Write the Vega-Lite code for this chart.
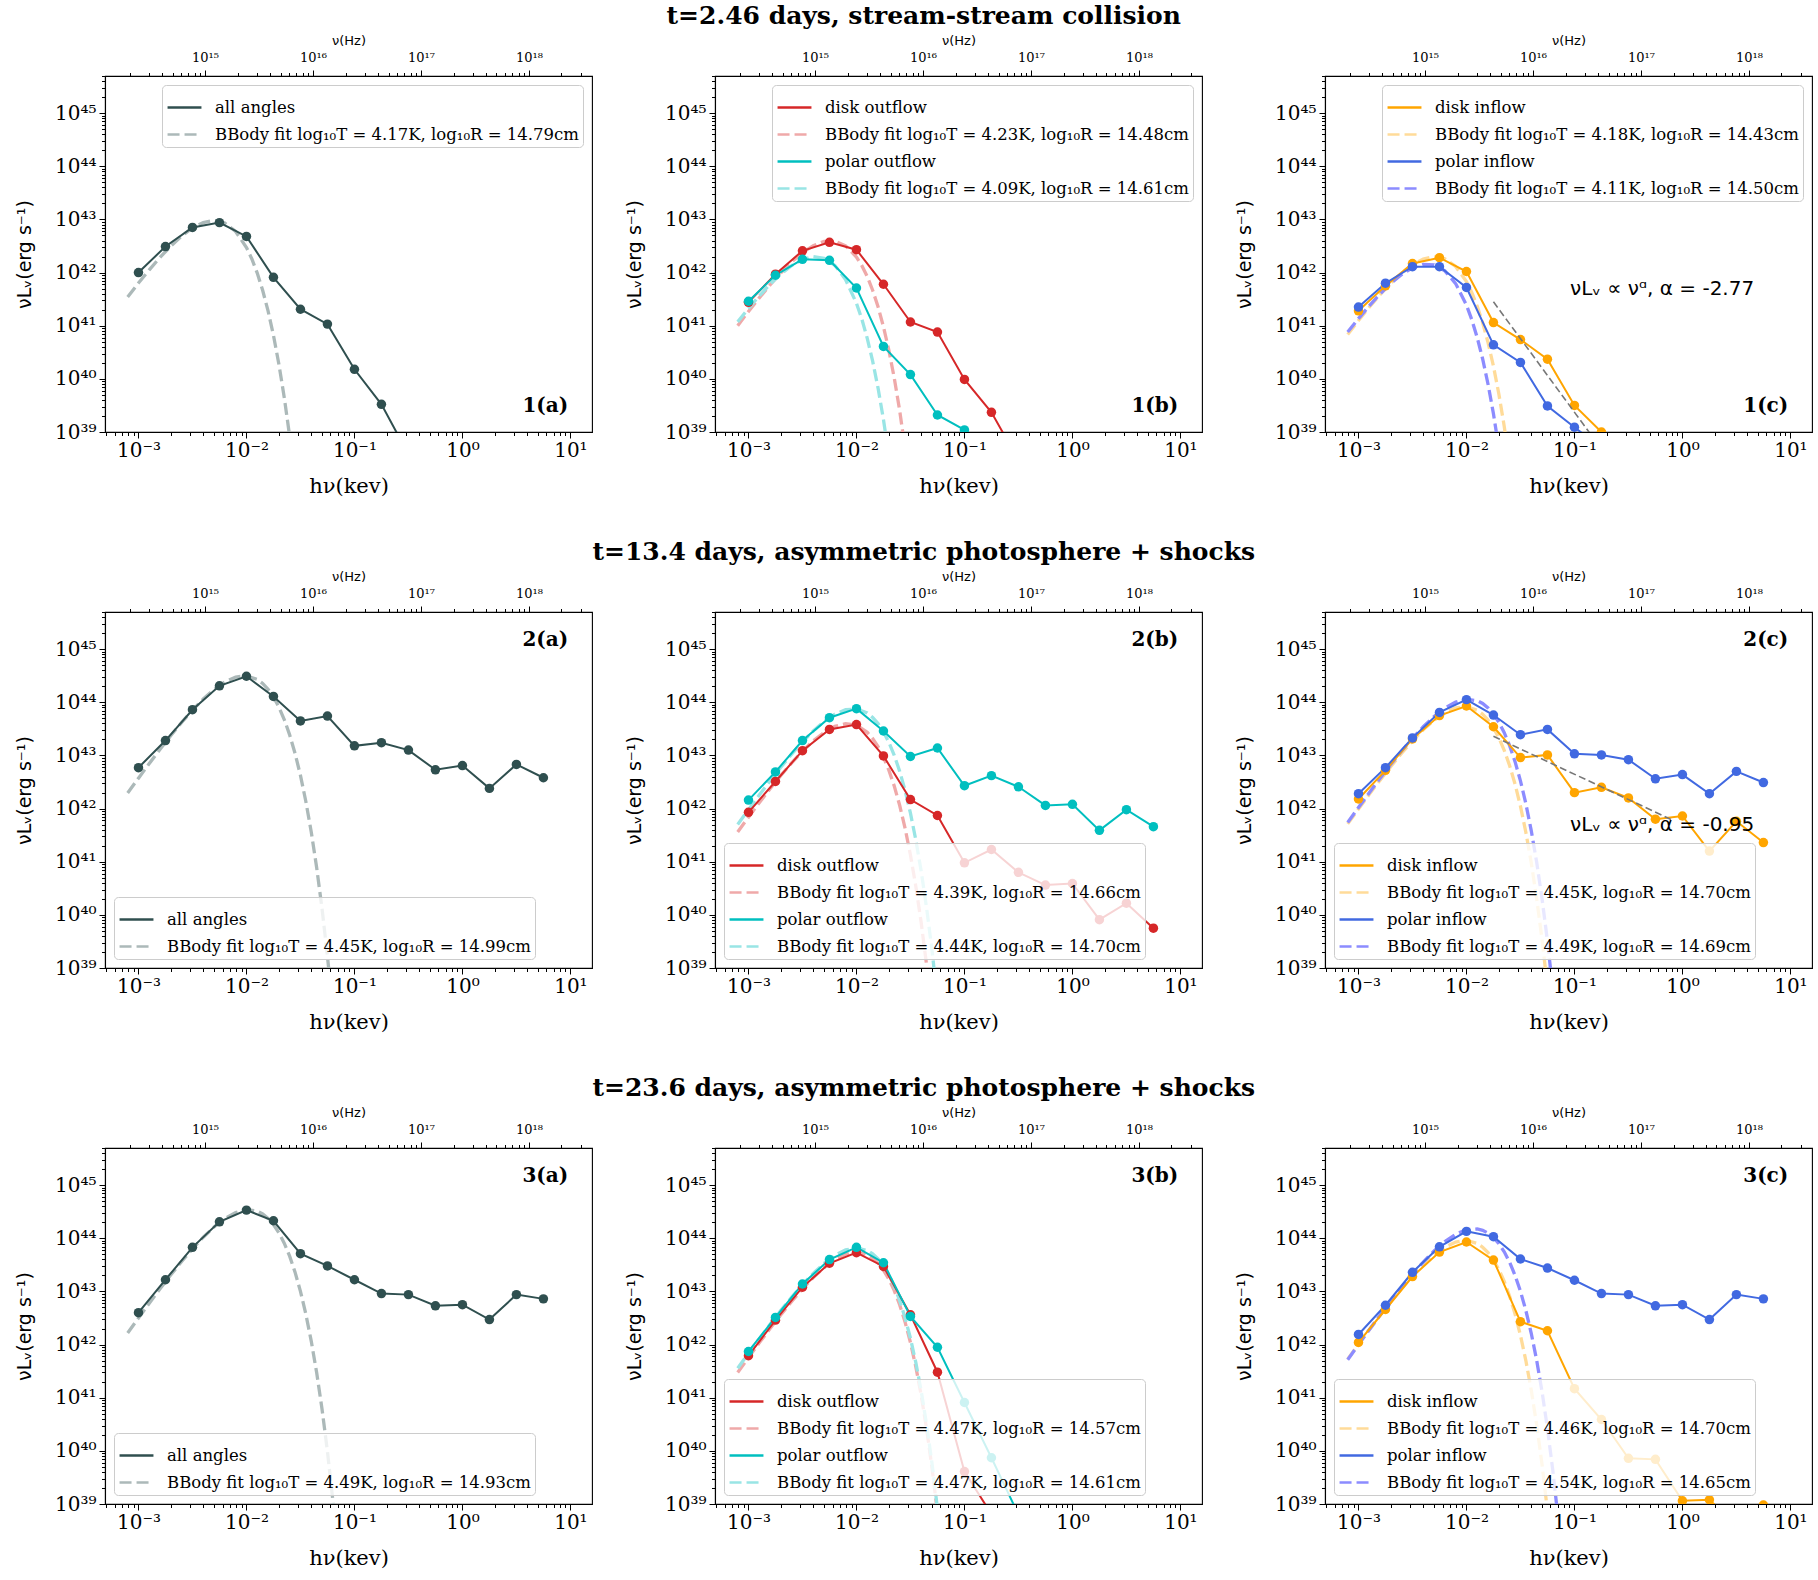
{
"$schema": "https://vega.github.io/schema/vega-lite/v6.json",
"background": "white",
"padding": {"left": 14, "top": 4, "right": 2, "bottom": 2},
"config": {
  "font": "DejaVu Serif",
  "view": {"stroke": "black", "strokeWidth": 1.1},
  "axis": {"grid": false, "domainColor": "black", "domainWidth": 1.1, "tickColor": "black", "tickWidth": 1, "labelColor": "black", "titleColor": "black", "labelFont": "DejaVu Serif", "labelFontSize": 20, "titleFont": "DejaVu Serif", "titleFontSize": 21, "titleFontWeight": "normal", "labelOverlap": false, "labelFlush": false, "labelBound": false},
  "legend": {"labelFont": "DejaVu Serif", "labelFontSize": 16.5, "labelColor": "black", "symbolType": "stroke", "symbolSize": 1150, "symbolStrokeWidth": 2.5, "rowPadding": 0, "padding": 4, "strokeColor": "#cccccc", "fillColor": "rgba(255,255,255,0.8)", "cornerRadius": 4, "labelOffset": 12, "labelLimit": 0, "offset": 9},
  "title": {"font": "DejaVu Serif", "fontSize": 25, "fontWeight": "bold", "color": "black", "anchor": "middle", "offset": 0},
  "line": {"strokeCap": "butt"}
},
"datasets": {
"p1a": [
{"s":"D1","x":-3,"y":42.0},{"s":"D1","x":-2.75,"y":42.49},{"s":"D1","x":-2.5,"y":42.85},{"s":"D1","x":-2.25,"y":42.94},{"s":"D1","x":-2,"y":42.68},{"s":"D1","x":-1.75,"y":41.91},{"s":"D1","x":-1.5,"y":41.31},{"s":"D1","x":-1.25,"y":41.03},{"s":"D1","x":-1,"y":40.18},{"s":"D1","x":-0.75,"y":39.52},{"s":"D1","x":-0.5,"y":38.58},
{"s":"B1","x":-3.1,"y":41.542},{"s":"B1","x":-3,"y":41.803},{"s":"B1","x":-2.9,"y":42.052},{"s":"B1","x":-2.8,"y":42.287},{"s":"B1","x":-2.7,"y":42.501},{"s":"B1","x":-2.6,"y":42.688},{"s":"B1","x":-2.5,"y":42.839},{"s":"B1","x":-2.4,"y":42.942},{"s":"B1","x":-2.3,"y":42.98},{"s":"B1","x":-2.2,"y":42.932},{"s":"B1","x":-2.1,"y":42.773},{"s":"B1","x":-2,"y":42.472},{"s":"B1","x":-1.95,"y":42.256},{"s":"B1","x":-1.9,"y":41.99},{"s":"B1","x":-1.85,"y":41.666},{"s":"B1","x":-1.8,"y":41.279},{"s":"B1","x":-1.75,"y":40.82},{"s":"B1","x":-1.7,"y":40.281},{"s":"B1","x":-1.65,"y":39.651},{"s":"B1","x":-1.6,"y":38.921}
],
"p1b": [
{"s":"D1","x":-3,"y":41.44},{"s":"D1","x":-2.75,"y":41.97},{"s":"D1","x":-2.5,"y":42.41},{"s":"D1","x":-2.25,"y":42.57},{"s":"D1","x":-2,"y":42.43},{"s":"D1","x":-1.75,"y":41.78},{"s":"D1","x":-1.5,"y":41.07},{"s":"D1","x":-1.25,"y":40.88},{"s":"D1","x":-1,"y":39.99},{"s":"D1","x":-0.75,"y":39.37},{"s":"D1","x":-0.5,"y":38.47},
{"s":"B1","x":-3.1,"y":41.001},{"s":"B1","x":-3,"y":41.268},{"s":"B1","x":-2.9,"y":41.524},{"s":"B1","x":-2.8,"y":41.768},{"s":"B1","x":-2.7,"y":41.995},{"s":"B1","x":-2.6,"y":42.2},{"s":"B1","x":-2.5,"y":42.374},{"s":"B1","x":-2.4,"y":42.507},{"s":"B1","x":-2.3,"y":42.586},{"s":"B1","x":-2.2,"y":42.593},{"s":"B1","x":-2.1,"y":42.504},{"s":"B1","x":-2,"y":42.293},{"s":"B1","x":-1.95,"y":42.13},{"s":"B1","x":-1.9,"y":41.924},{"s":"B1","x":-1.85,"y":41.668},{"s":"B1","x":-1.8,"y":41.356},{"s":"B1","x":-1.75,"y":40.983},{"s":"B1","x":-1.7,"y":40.539},{"s":"B1","x":-1.65,"y":40.017},{"s":"B1","x":-1.6,"y":39.406},{"s":"B1","x":-1.55,"y":38.697},
{"s":"D2","x":-3,"y":41.46},{"s":"D2","x":-2.75,"y":41.95},{"s":"D2","x":-2.5,"y":42.25},{"s":"D2","x":-2.25,"y":42.23},{"s":"D2","x":-2,"y":41.71},{"s":"D2","x":-1.75,"y":40.61},{"s":"D2","x":-1.5,"y":40.08},{"s":"D2","x":-1.25,"y":39.32},{"s":"D2","x":-1,"y":39.04},{"s":"D2","x":-0.75,"y":38.6},
{"s":"B2","x":-3.1,"y":41.072},{"s":"B2","x":-3,"y":41.324},{"s":"B2","x":-2.9,"y":41.561},{"s":"B2","x":-2.8,"y":41.78},{"s":"B2","x":-2.7,"y":41.973},{"s":"B2","x":-2.6,"y":42.133},{"s":"B2","x":-2.5,"y":42.246},{"s":"B2","x":-2.4,"y":42.299},{"s":"B2","x":-2.3,"y":42.27},{"s":"B2","x":-2.2,"y":42.136},{"s":"B2","x":-2.1,"y":41.865},{"s":"B2","x":-2,"y":41.423},{"s":"B2","x":-1.95,"y":41.123},{"s":"B2","x":-1.9,"y":40.762},{"s":"B2","x":-1.85,"y":40.333},{"s":"B2","x":-1.8,"y":39.827},{"s":"B2","x":-1.75,"y":39.235},{"s":"B2","x":-1.7,"y":38.546}
],
"p1c": [
{"s":"D1","x":-3,"y":41.28},{"s":"D1","x":-2.75,"y":41.75},{"s":"D1","x":-2.5,"y":42.17},{"s":"D1","x":-2.25,"y":42.28},{"s":"D1","x":-2,"y":42.02},{"s":"D1","x":-1.75,"y":41.06},{"s":"D1","x":-1.5,"y":40.74},{"s":"D1","x":-1.25,"y":40.37},{"s":"D1","x":-1,"y":39.5},{"s":"D1","x":-0.75,"y":39.0},{"s":"D1","x":-0.5,"y":38.5},
{"s":"B1","x":-3.1,"y":40.835},{"s":"B1","x":-3,"y":41.097},{"s":"B1","x":-2.9,"y":41.348},{"s":"B1","x":-2.8,"y":41.584},{"s":"B1","x":-2.7,"y":41.801},{"s":"B1","x":-2.6,"y":41.991},{"s":"B1","x":-2.5,"y":42.146},{"s":"B1","x":-2.4,"y":42.254},{"s":"B1","x":-2.3,"y":42.3},{"s":"B1","x":-2.2,"y":42.261},{"s":"B1","x":-2.1,"y":42.115},{"s":"B1","x":-2,"y":41.829},{"s":"B1","x":-1.95,"y":41.623},{"s":"B1","x":-1.9,"y":41.367},{"s":"B1","x":-1.85,"y":41.056},{"s":"B1","x":-1.8,"y":40.682},{"s":"B1","x":-1.75,"y":40.238},{"s":"B1","x":-1.7,"y":39.715},{"s":"B1","x":-1.65,"y":39.105},{"s":"B1","x":-1.6,"y":38.395},
{"s":"D2","x":-3,"y":41.35},{"s":"D2","x":-2.75,"y":41.8},{"s":"D2","x":-2.5,"y":42.11},{"s":"D2","x":-2.25,"y":42.11},{"s":"D2","x":-2,"y":41.72},{"s":"D2","x":-1.75,"y":40.64},{"s":"D2","x":-1.5,"y":40.31},{"s":"D2","x":-1.25,"y":39.49},{"s":"D2","x":-1,"y":39.09},{"s":"D2","x":-0.75,"y":38.7},
{"s":"B2","x":-3.1,"y":40.88},{"s":"B2","x":-3,"y":41.134},{"s":"B2","x":-2.9,"y":41.375},{"s":"B2","x":-2.8,"y":41.598},{"s":"B2","x":-2.7,"y":41.797},{"s":"B2","x":-2.6,"y":41.964},{"s":"B2","x":-2.5,"y":42.088},{"s":"B2","x":-2.4,"y":42.154},{"s":"B2","x":-2.3,"y":42.143},{"s":"B2","x":-2.2,"y":42.032},{"s":"B2","x":-2.1,"y":41.792},{"s":"B2","x":-2,"y":41.387},{"s":"B2","x":-1.95,"y":41.11},{"s":"B2","x":-1.9,"y":40.775},{"s":"B2","x":-1.85,"y":40.374},{"s":"B2","x":-1.8,"y":39.899},{"s":"B2","x":-1.75,"y":39.343},{"s":"B2","x":-1.7,"y":38.694},
{"s":"P","x":-1.75,"y":41.45},{"s":"P","x":-0.1,"y":36.88}
],
"p2a": [
{"s":"D1","x":-3,"y":42.77},{"s":"D1","x":-2.75,"y":43.28},{"s":"D1","x":-2.5,"y":43.86},{"s":"D1","x":-2.25,"y":44.31},{"s":"D1","x":-2,"y":44.49},{"s":"D1","x":-1.75,"y":44.11},{"s":"D1","x":-1.5,"y":43.65},{"s":"D1","x":-1.25,"y":43.74},{"s":"D1","x":-1,"y":43.18},{"s":"D1","x":-0.75,"y":43.24},{"s":"D1","x":-0.5,"y":43.1},{"s":"D1","x":-0.25,"y":42.73},{"s":"D1","x":0,"y":42.81},{"s":"D1","x":0.25,"y":42.38},{"s":"D1","x":0.5,"y":42.83},{"s":"D1","x":0.75,"y":42.58},
{"s":"B1","x":-3.1,"y":42.292},{"s":"B1","x":-3,"y":42.572},{"s":"B1","x":-2.9,"y":42.847},{"s":"B1","x":-2.8,"y":43.115},{"s":"B1","x":-2.7,"y":43.374},{"s":"B1","x":-2.6,"y":43.621},{"s":"B1","x":-2.5,"y":43.851},{"s":"B1","x":-2.4,"y":44.061},{"s":"B1","x":-2.3,"y":44.242},{"s":"B1","x":-2.2,"y":44.384},{"s":"B1","x":-2.1,"y":44.475},{"s":"B1","x":-2,"y":44.498},{"s":"B1","x":-1.9,"y":44.43},{"s":"B1","x":-1.85,"y":44.355},{"s":"B1","x":-1.8,"y":44.246},{"s":"B1","x":-1.75,"y":44.1},{"s":"B1","x":-1.7,"y":43.911},{"s":"B1","x":-1.65,"y":43.676},{"s":"B1","x":-1.6,"y":43.387},{"s":"B1","x":-1.55,"y":43.039},{"s":"B1","x":-1.5,"y":42.625},{"s":"B1","x":-1.45,"y":42.134},{"s":"B1","x":-1.4,"y":41.561},{"s":"B1","x":-1.35,"y":40.892},{"s":"B1","x":-1.3,"y":40.117},{"s":"B1","x":-1.25,"y":39.224},{"s":"B1","x":-1.2,"y":38.197}
],
"p2b": [
{"s":"D1","x":-3,"y":41.93},{"s":"D1","x":-2.75,"y":42.51},{"s":"D1","x":-2.5,"y":43.09},{"s":"D1","x":-2.25,"y":43.49},{"s":"D1","x":-2,"y":43.58},{"s":"D1","x":-1.75,"y":42.99},{"s":"D1","x":-1.5,"y":42.17},{"s":"D1","x":-1.25,"y":41.87},{"s":"D1","x":-1,"y":40.98},{"s":"D1","x":-0.75,"y":41.23},{"s":"D1","x":-0.5,"y":40.8},{"s":"D1","x":-0.25,"y":40.56},{"s":"D1","x":0,"y":40.59},{"s":"D1","x":0.25,"y":39.91},{"s":"D1","x":0.5,"y":40.22},{"s":"D1","x":0.75,"y":39.75},
{"s":"B1","x":-3.1,"y":41.56},{"s":"B1","x":-3,"y":41.838},{"s":"B1","x":-2.9,"y":42.109},{"s":"B1","x":-2.8,"y":42.372},{"s":"B1","x":-2.7,"y":42.624},{"s":"B1","x":-2.6,"y":42.861},{"s":"B1","x":-2.5,"y":43.08},{"s":"B1","x":-2.4,"y":43.273},{"s":"B1","x":-2.3,"y":43.433},{"s":"B1","x":-2.2,"y":43.546},{"s":"B1","x":-2.1,"y":43.598},{"s":"B1","x":-2,"y":43.57},{"s":"B1","x":-1.9,"y":43.435},{"s":"B1","x":-1.85,"y":43.32},{"s":"B1","x":-1.8,"y":43.165},{"s":"B1","x":-1.75,"y":42.968},{"s":"B1","x":-1.7,"y":42.723},{"s":"B1","x":-1.65,"y":42.423},{"s":"B1","x":-1.6,"y":42.062},{"s":"B1","x":-1.55,"y":41.633},{"s":"B1","x":-1.5,"y":41.126},{"s":"B1","x":-1.45,"y":40.534},{"s":"B1","x":-1.4,"y":39.845},{"s":"B1","x":-1.35,"y":39.048},{"s":"B1","x":-1.3,"y":38.129},
{"s":"D2","x":-3,"y":42.16},{"s":"D2","x":-2.75,"y":42.69},{"s":"D2","x":-2.5,"y":43.28},{"s":"D2","x":-2.25,"y":43.71},{"s":"D2","x":-2,"y":43.88},{"s":"D2","x":-1.75,"y":43.46},{"s":"D2","x":-1.5,"y":42.98},{"s":"D2","x":-1.25,"y":43.14},{"s":"D2","x":-1,"y":42.43},{"s":"D2","x":-0.75,"y":42.62},{"s":"D2","x":-0.5,"y":42.41},{"s":"D2","x":-0.25,"y":42.06},{"s":"D2","x":0,"y":42.08},{"s":"D2","x":0.25,"y":41.59},{"s":"D2","x":0.5,"y":41.98},{"s":"D2","x":0.75,"y":41.66},
{"s":"B2","x":-3.1,"y":41.7},{"s":"B2","x":-3,"y":41.98},{"s":"B2","x":-2.9,"y":42.254},{"s":"B2","x":-2.8,"y":42.521},{"s":"B2","x":-2.7,"y":42.779},{"s":"B2","x":-2.6,"y":43.025},{"s":"B2","x":-2.5,"y":43.253},{"s":"B2","x":-2.4,"y":43.46},{"s":"B2","x":-2.3,"y":43.638},{"s":"B2","x":-2.2,"y":43.776},{"s":"B2","x":-2.1,"y":43.861},{"s":"B2","x":-2,"y":43.876},{"s":"B2","x":-1.9,"y":43.798},{"s":"B2","x":-1.85,"y":43.716},{"s":"B2","x":-1.8,"y":43.6},{"s":"B2","x":-1.75,"y":43.445},{"s":"B2","x":-1.7,"y":43.248},{"s":"B2","x":-1.65,"y":43.003},{"s":"B2","x":-1.6,"y":42.703},{"s":"B2","x":-1.55,"y":42.342},{"s":"B2","x":-1.5,"y":41.913},{"s":"B2","x":-1.45,"y":41.407},{"s":"B2","x":-1.4,"y":40.815},{"s":"B2","x":-1.35,"y":40.126},{"s":"B2","x":-1.3,"y":39.329},{"s":"B2","x":-1.25,"y":38.41}
],
"p2c": [
{"s":"D1","x":-3,"y":42.18},{"s":"D1","x":-2.75,"y":42.72},{"s":"D1","x":-2.5,"y":43.31},{"s":"D1","x":-2.25,"y":43.75},{"s":"D1","x":-2,"y":43.93},{"s":"D1","x":-1.75,"y":43.54},{"s":"D1","x":-1.5,"y":42.96},{"s":"D1","x":-1.25,"y":43.01},{"s":"D1","x":-1,"y":42.3},{"s":"D1","x":-0.75,"y":42.4},{"s":"D1","x":-0.5,"y":42.2},{"s":"D1","x":-0.25,"y":41.8},{"s":"D1","x":0,"y":41.86},{"s":"D1","x":0.25,"y":41.2},{"s":"D1","x":0.5,"y":41.76},{"s":"D1","x":0.75,"y":41.36},
{"s":"B1","x":-3.1,"y":41.712},{"s":"B1","x":-3,"y":41.992},{"s":"B1","x":-2.9,"y":42.267},{"s":"B1","x":-2.8,"y":42.535},{"s":"B1","x":-2.7,"y":42.794},{"s":"B1","x":-2.6,"y":43.041},{"s":"B1","x":-2.5,"y":43.271},{"s":"B1","x":-2.4,"y":43.481},{"s":"B1","x":-2.3,"y":43.662},{"s":"B1","x":-2.2,"y":43.804},{"s":"B1","x":-2.1,"y":43.895},{"s":"B1","x":-2,"y":43.918},{"s":"B1","x":-1.9,"y":43.85},{"s":"B1","x":-1.85,"y":43.775},{"s":"B1","x":-1.8,"y":43.666},{"s":"B1","x":-1.75,"y":43.52},{"s":"B1","x":-1.7,"y":43.331},{"s":"B1","x":-1.65,"y":43.096},{"s":"B1","x":-1.6,"y":42.807},{"s":"B1","x":-1.55,"y":42.459},{"s":"B1","x":-1.5,"y":42.045},{"s":"B1","x":-1.45,"y":41.554},{"s":"B1","x":-1.4,"y":40.981},{"s":"B1","x":-1.35,"y":40.312},{"s":"B1","x":-1.3,"y":39.537},{"s":"B1","x":-1.25,"y":38.644},
{"s":"D2","x":-3,"y":42.28},{"s":"D2","x":-2.75,"y":42.77},{"s":"D2","x":-2.5,"y":43.33},{"s":"D2","x":-2.25,"y":43.81},{"s":"D2","x":-2,"y":44.05},{"s":"D2","x":-1.75,"y":43.76},{"s":"D2","x":-1.5,"y":43.39},{"s":"D2","x":-1.25,"y":43.49},{"s":"D2","x":-1,"y":43.03},{"s":"D2","x":-0.75,"y":43.01},{"s":"D2","x":-0.5,"y":42.92},{"s":"D2","x":-0.25,"y":42.56},{"s":"D2","x":0,"y":42.64},{"s":"D2","x":0.25,"y":42.28},{"s":"D2","x":0.5,"y":42.7},{"s":"D2","x":0.75,"y":42.49},
{"s":"B2","x":-3.1,"y":41.738},{"s":"B2","x":-3,"y":42.02},{"s":"B2","x":-2.9,"y":42.298},{"s":"B2","x":-2.8,"y":42.569},{"s":"B2","x":-2.7,"y":42.832},{"s":"B2","x":-2.6,"y":43.084},{"s":"B2","x":-2.5,"y":43.321},{"s":"B2","x":-2.4,"y":43.54},{"s":"B2","x":-2.3,"y":43.733},{"s":"B2","x":-2.2,"y":43.893},{"s":"B2","x":-2.1,"y":44.006},{"s":"B2","x":-2,"y":44.058},{"s":"B2","x":-1.9,"y":44.03},{"s":"B2","x":-1.85,"y":43.978},{"s":"B2","x":-1.8,"y":43.895},{"s":"B2","x":-1.75,"y":43.78},{"s":"B2","x":-1.7,"y":43.625},{"s":"B2","x":-1.65,"y":43.428},{"s":"B2","x":-1.6,"y":43.183},{"s":"B2","x":-1.55,"y":42.883},{"s":"B2","x":-1.5,"y":42.522},{"s":"B2","x":-1.45,"y":42.093},{"s":"B2","x":-1.4,"y":41.586},{"s":"B2","x":-1.35,"y":40.994},{"s":"B2","x":-1.3,"y":40.305},{"s":"B2","x":-1.25,"y":39.508},{"s":"B2","x":-1.2,"y":38.589},
{"s":"P","x":-1.75,"y":43.36},{"s":"P","x":-0.1,"y":41.79}
],
"p3a": [
{"s":"D1","x":-3,"y":42.6},{"s":"D1","x":-2.75,"y":43.22},{"s":"D1","x":-2.5,"y":43.83},{"s":"D1","x":-2.25,"y":44.31},{"s":"D1","x":-2,"y":44.53},{"s":"D1","x":-1.75,"y":44.33},{"s":"D1","x":-1.5,"y":43.71},{"s":"D1","x":-1.25,"y":43.48},{"s":"D1","x":-1,"y":43.22},{"s":"D1","x":-0.75,"y":42.96},{"s":"D1","x":-0.5,"y":42.94},{"s":"D1","x":-0.25,"y":42.73},{"s":"D1","x":0,"y":42.75},{"s":"D1","x":0.25,"y":42.47},{"s":"D1","x":0.5,"y":42.94},{"s":"D1","x":0.75,"y":42.86},
{"s":"B1","x":-3.1,"y":42.218},{"s":"B1","x":-3,"y":42.5},{"s":"B1","x":-2.9,"y":42.778},{"s":"B1","x":-2.8,"y":43.049},{"s":"B1","x":-2.7,"y":43.312},{"s":"B1","x":-2.6,"y":43.564},{"s":"B1","x":-2.5,"y":43.801},{"s":"B1","x":-2.4,"y":44.02},{"s":"B1","x":-2.3,"y":44.213},{"s":"B1","x":-2.2,"y":44.373},{"s":"B1","x":-2.1,"y":44.486},{"s":"B1","x":-2,"y":44.538},{"s":"B1","x":-1.9,"y":44.51},{"s":"B1","x":-1.85,"y":44.458},{"s":"B1","x":-1.8,"y":44.375},{"s":"B1","x":-1.75,"y":44.26},{"s":"B1","x":-1.7,"y":44.105},{"s":"B1","x":-1.65,"y":43.908},{"s":"B1","x":-1.6,"y":43.663},{"s":"B1","x":-1.55,"y":43.363},{"s":"B1","x":-1.5,"y":43.002},{"s":"B1","x":-1.45,"y":42.573},{"s":"B1","x":-1.4,"y":42.066},{"s":"B1","x":-1.35,"y":41.474},{"s":"B1","x":-1.3,"y":40.785},{"s":"B1","x":-1.25,"y":39.988},{"s":"B1","x":-1.2,"y":39.069},{"s":"B1","x":-1.15,"y":38.013}
],
"p3b": [
{"s":"D1","x":-3,"y":41.79},{"s":"D1","x":-2.75,"y":42.46},{"s":"D1","x":-2.5,"y":43.08},{"s":"D1","x":-2.25,"y":43.53},{"s":"D1","x":-2,"y":43.73},{"s":"D1","x":-1.75,"y":43.47},{"s":"D1","x":-1.5,"y":42.56},{"s":"D1","x":-1.25,"y":41.48},{"s":"D1","x":-1,"y":39.61},{"s":"D1","x":-0.75,"y":38.81},
{"s":"B1","x":-3.1,"y":41.475},{"s":"B1","x":-3,"y":41.756},{"s":"B1","x":-2.9,"y":42.032},{"s":"B1","x":-2.8,"y":42.302},{"s":"B1","x":-2.7,"y":42.563},{"s":"B1","x":-2.6,"y":42.812},{"s":"B1","x":-2.5,"y":43.047},{"s":"B1","x":-2.4,"y":43.261},{"s":"B1","x":-2.3,"y":43.448},{"s":"B1","x":-2.2,"y":43.599},{"s":"B1","x":-2.1,"y":43.702},{"s":"B1","x":-2,"y":43.74},{"s":"B1","x":-1.9,"y":43.692},{"s":"B1","x":-1.85,"y":43.629},{"s":"B1","x":-1.8,"y":43.533},{"s":"B1","x":-1.75,"y":43.402},{"s":"B1","x":-1.7,"y":43.232},{"s":"B1","x":-1.65,"y":43.016},{"s":"B1","x":-1.6,"y":42.749},{"s":"B1","x":-1.55,"y":42.426},{"s":"B1","x":-1.5,"y":42.039},{"s":"B1","x":-1.45,"y":41.58},{"s":"B1","x":-1.4,"y":41.04},{"s":"B1","x":-1.35,"y":40.411},{"s":"B1","x":-1.3,"y":39.68},{"s":"B1","x":-1.25,"y":38.836},
{"s":"D2","x":-3,"y":41.87},{"s":"D2","x":-2.75,"y":42.51},{"s":"D2","x":-2.5,"y":43.14},{"s":"D2","x":-2.25,"y":43.6},{"s":"D2","x":-2,"y":43.83},{"s":"D2","x":-1.75,"y":43.54},{"s":"D2","x":-1.5,"y":42.53},{"s":"D2","x":-1.25,"y":41.95},{"s":"D2","x":-1,"y":40.91},{"s":"D2","x":-0.75,"y":39.87},{"s":"D2","x":-0.5,"y":38.8},
{"s":"B2","x":-3.1,"y":41.555},{"s":"B2","x":-3,"y":41.836},{"s":"B2","x":-2.9,"y":42.112},{"s":"B2","x":-2.8,"y":42.382},{"s":"B2","x":-2.7,"y":42.643},{"s":"B2","x":-2.6,"y":42.892},{"s":"B2","x":-2.5,"y":43.127},{"s":"B2","x":-2.4,"y":43.341},{"s":"B2","x":-2.3,"y":43.528},{"s":"B2","x":-2.2,"y":43.679},{"s":"B2","x":-2.1,"y":43.782},{"s":"B2","x":-2,"y":43.82},{"s":"B2","x":-1.9,"y":43.772},{"s":"B2","x":-1.85,"y":43.709},{"s":"B2","x":-1.8,"y":43.613},{"s":"B2","x":-1.75,"y":43.482},{"s":"B2","x":-1.7,"y":43.312},{"s":"B2","x":-1.65,"y":43.096},{"s":"B2","x":-1.6,"y":42.829},{"s":"B2","x":-1.55,"y":42.506},{"s":"B2","x":-1.5,"y":42.119},{"s":"B2","x":-1.45,"y":41.66},{"s":"B2","x":-1.4,"y":41.12},{"s":"B2","x":-1.35,"y":40.491},{"s":"B2","x":-1.3,"y":39.76},{"s":"B2","x":-1.25,"y":38.916}
],
"p3c": [
{"s":"D1","x":-3,"y":42.04},{"s":"D1","x":-2.75,"y":42.66},{"s":"D1","x":-2.5,"y":43.28},{"s":"D1","x":-2.25,"y":43.74},{"s":"D1","x":-2,"y":43.93},{"s":"D1","x":-1.75,"y":43.59},{"s":"D1","x":-1.5,"y":42.43},{"s":"D1","x":-1.25,"y":42.26},{"s":"D1","x":-1,"y":41.17},{"s":"D1","x":-0.75,"y":40.59},{"s":"D1","x":-0.5,"y":39.86},{"s":"D1","x":-0.25,"y":39.84},{"s":"D1","x":0,"y":39.06},{"s":"D1","x":0.25,"y":39.08},{"s":"D1","x":0.5,"y":38.6},{"s":"D1","x":0.75,"y":38.98},
{"s":"B1","x":-3.1,"y":41.723},{"s":"B1","x":-3,"y":42.004},{"s":"B1","x":-2.9,"y":42.28},{"s":"B1","x":-2.8,"y":42.549},{"s":"B1","x":-2.7,"y":42.808},{"s":"B1","x":-2.6,"y":43.057},{"s":"B1","x":-2.5,"y":43.289},{"s":"B1","x":-2.4,"y":43.501},{"s":"B1","x":-2.3,"y":43.685},{"s":"B1","x":-2.2,"y":43.832},{"s":"B1","x":-2.1,"y":43.929},{"s":"B1","x":-2,"y":43.96},{"s":"B1","x":-1.9,"y":43.902},{"s":"B1","x":-1.85,"y":43.832},{"s":"B1","x":-1.8,"y":43.73},{"s":"B1","x":-1.75,"y":43.592},{"s":"B1","x":-1.7,"y":43.413},{"s":"B1","x":-1.65,"y":43.187},{"s":"B1","x":-1.6,"y":42.91},{"s":"B1","x":-1.55,"y":42.574},{"s":"B1","x":-1.5,"y":42.174},{"s":"B1","x":-1.45,"y":41.699},{"s":"B1","x":-1.4,"y":41.143},{"s":"B1","x":-1.35,"y":40.494},{"s":"B1","x":-1.3,"y":39.742},{"s":"B1","x":-1.25,"y":38.873},
{"s":"D2","x":-3,"y":42.19},{"s":"D2","x":-2.75,"y":42.74},{"s":"D2","x":-2.5,"y":43.36},{"s":"D2","x":-2.25,"y":43.84},{"s":"D2","x":-2,"y":44.13},{"s":"D2","x":-1.75,"y":44.03},{"s":"D2","x":-1.5,"y":43.61},{"s":"D2","x":-1.25,"y":43.44},{"s":"D2","x":-1,"y":43.21},{"s":"D2","x":-0.75,"y":42.96},{"s":"D2","x":-0.5,"y":42.94},{"s":"D2","x":-0.25,"y":42.73},{"s":"D2","x":0,"y":42.75},{"s":"D2","x":0.25,"y":42.47},{"s":"D2","x":0.5,"y":42.94},{"s":"D2","x":0.75,"y":42.86},
{"s":"B2","x":-3.1,"y":41.715},{"s":"B2","x":-3,"y":42.0},{"s":"B2","x":-2.9,"y":42.28},{"s":"B2","x":-2.8,"y":42.554},{"s":"B2","x":-2.7,"y":42.821},{"s":"B2","x":-2.6,"y":43.079},{"s":"B2","x":-2.5,"y":43.325},{"s":"B2","x":-2.4,"y":43.553},{"s":"B2","x":-2.3,"y":43.76},{"s":"B2","x":-2.2,"y":43.938},{"s":"B2","x":-2.1,"y":44.076},{"s":"B2","x":-2,"y":44.161},{"s":"B2","x":-1.9,"y":44.176},{"s":"B2","x":-1.85,"y":44.15},{"s":"B2","x":-1.8,"y":44.098},{"s":"B2","x":-1.75,"y":44.015},{"s":"B2","x":-1.7,"y":43.9},{"s":"B2","x":-1.65,"y":43.745},{"s":"B2","x":-1.6,"y":43.548},{"s":"B2","x":-1.55,"y":43.303},{"s":"B2","x":-1.5,"y":43.003},{"s":"B2","x":-1.45,"y":42.642},{"s":"B2","x":-1.4,"y":42.213},{"s":"B2","x":-1.35,"y":41.706},{"s":"B2","x":-1.3,"y":41.114},{"s":"B2","x":-1.25,"y":40.425},{"s":"B2","x":-1.2,"y":39.628},{"s":"B2","x":-1.15,"y":38.709}
]
},
"spacing": 43,
"resolve": {"scale": {"color": "independent", "strokeDash": "independent"}},
"vconcat": [
{
"title": {"text": "t=2.46 days, stream-stream collision", "dx": 10},
"spacing": 31,
"resolve": {"scale": {"color": "independent", "strokeDash": "independent"}},
"hconcat": [
{"width": 487, "height": 356, "data": {"name": "p1a"},
 "layer": [
  {"transform": [{"filter": "datum.s=='B1'||datum.s=='B2'"}], "mark": {"type": "line", "clip": true, "strokeWidth": 3.3},
   "encoding": {
    "x": {"field": "x", "type": "quantitative", "scale": {"domain": [-3.31, 1.2], "nice": false, "zero": false}, "axis": {"orient": "bottom", "title": "hν(kev)", "values": [-3.30103,-3.22185,-3.1549,-3.09691,-3.04576,-3,-2.69897,-2.52288,-2.39794,-2.30103,-2.22185,-2.1549,-2.09691,-2.04576,-2,-1.69897,-1.52288,-1.39794,-1.30103,-1.22185,-1.1549,-1.09691,-1.04576,-1,-0.69897,-0.52288,-0.39794,-0.30103,-0.22185,-0.1549,-0.09691,-0.04576,0,0.30103,0.47712,0.60206,0.69897,0.77815,0.8451,0.90309,0.95424,1], "labelExpr": "datum.value==-3?'10⁻³':datum.value==-2?'10⁻²':datum.value==-1?'10⁻¹':datum.value==0?'10⁰':datum.value==1?'10¹':''", "tickSize": {"condition": {"test": "datum.value==round(datum.value)", "value": 6}, "value": 3.5}, "labelPadding": 2, "titlePadding": 15}},
    "y": {"field": "y", "type": "quantitative", "scale": {"domain": [39, 45.699], "nice": false, "zero": false}, "axis": {"title": "νLᵥ(erg s⁻¹)", "titleFont": "DejaVu Sans", "titleFontSize": 19, "values": [39,39.30103,39.47712,39.60206,39.69897,39.77815,39.8451,39.90309,39.95424,40,40.30103,40.47712,40.60206,40.69897,40.77815,40.8451,40.90309,40.95424,41,41.30103,41.47712,41.60206,41.69897,41.77815,41.8451,41.90309,41.95424,42,42.30103,42.47712,42.60206,42.69897,42.77815,42.8451,42.90309,42.95424,43,43.30103,43.47712,43.60206,43.69897,43.77815,43.8451,43.90309,43.95424,44,44.30103,44.47712,44.60206,44.69897,44.77815,44.8451,44.90309,44.95424,45,45.30103,45.47712,45.60206,45.69897], "labelExpr": "datum.value==39?'10³⁹':datum.value==40?'10⁴⁰':datum.value==41?'10⁴¹':datum.value==42?'10⁴²':datum.value==43?'10⁴³':datum.value==44?'10⁴⁴':datum.value==45?'10⁴⁵':''", "tickSize": {"condition": {"test": "datum.value==round(datum.value)", "value": 6}, "value": 3.5}, "labelPadding": 3, "titlePadding": 20}},
    "color": {"field": "s", "type": "nominal", "scale": {"domain": ["D1","B1"], "range": ["#2f4f4f","#acb9b9"]}, "legend": {"title": null, "orient": "top-right", "labelExpr": "datum.label=='D1'?'all angles':'BBody fit log₁₀T = 4.17K, log₁₀R = 14.79cm'"}},
    "strokeDash": {"field": "s", "type": "nominal", "scale": {"domain": ["D1","B1"], "range": [[1,0],[12,5]]}, "legend": {"title": null, "orient": "top-right", "labelExpr": "datum.label=='D1'?'all angles':'BBody fit log₁₀T = 4.17K, log₁₀R = 14.79cm'"}}
   }},
  {"transform": [{"filter": "datum.s=='D1'||datum.s=='D2'"}], "mark": {"type": "line", "clip": true, "strokeWidth": 2},
   "encoding": {"x": {"field": "x", "type": "quantitative", "axis": null}, "y": {"field": "y", "type": "quantitative", "axis": null}, "color": {"field": "s", "type": "nominal", "legend": null}}},
  {"transform": [{"filter": "datum.s=='D1'||datum.s=='D2'"}], "mark": {"type": "point", "filled": true, "size": 90, "opacity": 1, "clip": true},
   "encoding": {"x": {"field": "x", "type": "quantitative", "axis": null}, "y": {"field": "y", "type": "quantitative", "axis": null}, "color": {"field": "s", "type": "nominal", "legend": null}}},
  {"data": {"values": [{}]}, "mark": {"type": "text", "align": "right", "baseline": "middle", "font": "DejaVu Serif", "fontWeight": "bold", "fontSize": 20},
   "encoding": {"x": {"datum": 0.98, "type": "quantitative", "axis": {"orient": "top", "title": "ν(Hz)", "titleFont": "DejaVu Sans", "titleFontSize": 13, "labelFontSize": 13, "values": [-3.08247,-2.90638,-2.78144,-2.68453,-2.60535,-2.5384,-2.48041,-2.42926,-2.3835,-2.08247,-1.90638,-1.78144,-1.68453,-1.60535,-1.5384,-1.48041,-1.42926,-1.3835,-1.08247,-0.90638,-0.78144,-0.68453,-0.60535,-0.5384,-0.48041,-0.42926,-0.3835,-0.08247,0.09362,0.21856,0.31547,0.39465,0.4616,0.51959,0.57074,0.6165,0.91753,1.09362], "labelExpr": "datum.value==-2.3835?'10¹⁵':datum.value==-1.3835?'10¹⁶':datum.value==-0.3835?'10¹⁷':datum.value==0.6165?'10¹⁸':''", "tickSize": {"condition": {"test": "indexof([-2.3835,-1.3835,-0.3835,0.6165],datum.value)>=0", "value": 6}, "value": 3.5}, "labelPadding": 6, "titlePadding": 4}},
    "y": {"datum": 39.49, "type": "quantitative", "axis": null}, "text": {"value": "1(a)"}}}
 ],
 "resolve": {"axis": {"x": "independent", "y": "independent"}}
},
{"width": 487, "height": 356, "data": {"name": "p1b"},
 "layer": [
  {"transform": [{"filter": "datum.s=='B1'||datum.s=='B2'"}], "mark": {"type": "line", "clip": true, "strokeWidth": 3.3},
   "encoding": {
    "x": {"field": "x", "type": "quantitative", "scale": {"domain": [-3.31, 1.2], "nice": false, "zero": false}, "axis": {"orient": "bottom", "title": "hν(kev)", "values": [-3.30103,-3.22185,-3.1549,-3.09691,-3.04576,-3,-2.69897,-2.52288,-2.39794,-2.30103,-2.22185,-2.1549,-2.09691,-2.04576,-2,-1.69897,-1.52288,-1.39794,-1.30103,-1.22185,-1.1549,-1.09691,-1.04576,-1,-0.69897,-0.52288,-0.39794,-0.30103,-0.22185,-0.1549,-0.09691,-0.04576,0,0.30103,0.47712,0.60206,0.69897,0.77815,0.8451,0.90309,0.95424,1], "labelExpr": "datum.value==-3?'10⁻³':datum.value==-2?'10⁻²':datum.value==-1?'10⁻¹':datum.value==0?'10⁰':datum.value==1?'10¹':''", "tickSize": {"condition": {"test": "datum.value==round(datum.value)", "value": 6}, "value": 3.5}, "labelPadding": 2, "titlePadding": 15}},
    "y": {"field": "y", "type": "quantitative", "scale": {"domain": [39, 45.699], "nice": false, "zero": false}, "axis": {"title": "νLᵥ(erg s⁻¹)", "titleFont": "DejaVu Sans", "titleFontSize": 19, "values": [39,39.30103,39.47712,39.60206,39.69897,39.77815,39.8451,39.90309,39.95424,40,40.30103,40.47712,40.60206,40.69897,40.77815,40.8451,40.90309,40.95424,41,41.30103,41.47712,41.60206,41.69897,41.77815,41.8451,41.90309,41.95424,42,42.30103,42.47712,42.60206,42.69897,42.77815,42.8451,42.90309,42.95424,43,43.30103,43.47712,43.60206,43.69897,43.77815,43.8451,43.90309,43.95424,44,44.30103,44.47712,44.60206,44.69897,44.77815,44.8451,44.90309,44.95424,45,45.30103,45.47712,45.60206,45.69897], "labelExpr": "datum.value==39?'10³⁹':datum.value==40?'10⁴⁰':datum.value==41?'10⁴¹':datum.value==42?'10⁴²':datum.value==43?'10⁴³':datum.value==44?'10⁴⁴':datum.value==45?'10⁴⁵':''", "tickSize": {"condition": {"test": "datum.value==round(datum.value)", "value": 6}, "value": 3.5}, "labelPadding": 3, "titlePadding": 20}},
    "color": {"field": "s", "type": "nominal", "scale": {"domain": ["D1","B1","D2","B2"], "range": ["#d62728","#efa9a9","#00bfbf","#99e5e5"]}, "legend": {"title": null, "orient": "top-right", "labelExpr": "datum.label=='D1'?'disk outflow':datum.label=='B1'?'BBody fit log₁₀T = 4.23K, log₁₀R = 14.48cm':datum.label=='D2'?'polar outflow':'BBody fit log₁₀T = 4.09K, log₁₀R = 14.61cm'"}},
    "strokeDash": {"field": "s", "type": "nominal", "scale": {"domain": ["D1","B1","D2","B2"], "range": [[1,0],[12,5],[1,0],[12,5]]}, "legend": {"title": null, "orient": "top-right", "labelExpr": "datum.label=='D1'?'disk outflow':datum.label=='B1'?'BBody fit log₁₀T = 4.23K, log₁₀R = 14.48cm':datum.label=='D2'?'polar outflow':'BBody fit log₁₀T = 4.09K, log₁₀R = 14.61cm'"}}
   }},
  {"transform": [{"filter": "datum.s=='D1'||datum.s=='D2'"}], "mark": {"type": "line", "clip": true, "strokeWidth": 2},
   "encoding": {"x": {"field": "x", "type": "quantitative", "axis": null}, "y": {"field": "y", "type": "quantitative", "axis": null}, "color": {"field": "s", "type": "nominal", "legend": null}}},
  {"transform": [{"filter": "datum.s=='D1'||datum.s=='D2'"}], "mark": {"type": "point", "filled": true, "size": 90, "opacity": 1, "clip": true},
   "encoding": {"x": {"field": "x", "type": "quantitative", "axis": null}, "y": {"field": "y", "type": "quantitative", "axis": null}, "color": {"field": "s", "type": "nominal", "legend": null}}},
  {"data": {"values": [{}]}, "mark": {"type": "text", "align": "right", "baseline": "middle", "font": "DejaVu Serif", "fontWeight": "bold", "fontSize": 20},
   "encoding": {"x": {"datum": 0.98, "type": "quantitative", "axis": {"orient": "top", "title": "ν(Hz)", "titleFont": "DejaVu Sans", "titleFontSize": 13, "labelFontSize": 13, "values": [-3.08247,-2.90638,-2.78144,-2.68453,-2.60535,-2.5384,-2.48041,-2.42926,-2.3835,-2.08247,-1.90638,-1.78144,-1.68453,-1.60535,-1.5384,-1.48041,-1.42926,-1.3835,-1.08247,-0.90638,-0.78144,-0.68453,-0.60535,-0.5384,-0.48041,-0.42926,-0.3835,-0.08247,0.09362,0.21856,0.31547,0.39465,0.4616,0.51959,0.57074,0.6165,0.91753,1.09362], "labelExpr": "datum.value==-2.3835?'10¹⁵':datum.value==-1.3835?'10¹⁶':datum.value==-0.3835?'10¹⁷':datum.value==0.6165?'10¹⁸':''", "tickSize": {"condition": {"test": "indexof([-2.3835,-1.3835,-0.3835,0.6165],datum.value)>=0", "value": 6}, "value": 3.5}, "labelPadding": 6, "titlePadding": 4}},
    "y": {"datum": 39.49, "type": "quantitative", "axis": null}, "text": {"value": "1(b)"}}}
 ],
 "resolve": {"axis": {"x": "independent", "y": "independent"}}
},
{"width": 487, "height": 356, "data": {"name": "p1c"},
 "layer": [
  {"transform": [{"filter": "datum.s=='B1'||datum.s=='B2'"}], "mark": {"type": "line", "clip": true, "strokeWidth": 3.3},
   "encoding": {
    "x": {"field": "x", "type": "quantitative", "scale": {"domain": [-3.31, 1.2], "nice": false, "zero": false}, "axis": {"orient": "bottom", "title": "hν(kev)", "values": [-3.30103,-3.22185,-3.1549,-3.09691,-3.04576,-3,-2.69897,-2.52288,-2.39794,-2.30103,-2.22185,-2.1549,-2.09691,-2.04576,-2,-1.69897,-1.52288,-1.39794,-1.30103,-1.22185,-1.1549,-1.09691,-1.04576,-1,-0.69897,-0.52288,-0.39794,-0.30103,-0.22185,-0.1549,-0.09691,-0.04576,0,0.30103,0.47712,0.60206,0.69897,0.77815,0.8451,0.90309,0.95424,1], "labelExpr": "datum.value==-3?'10⁻³':datum.value==-2?'10⁻²':datum.value==-1?'10⁻¹':datum.value==0?'10⁰':datum.value==1?'10¹':''", "tickSize": {"condition": {"test": "datum.value==round(datum.value)", "value": 6}, "value": 3.5}, "labelPadding": 2, "titlePadding": 15}},
    "y": {"field": "y", "type": "quantitative", "scale": {"domain": [39, 45.699], "nice": false, "zero": false}, "axis": {"title": "νLᵥ(erg s⁻¹)", "titleFont": "DejaVu Sans", "titleFontSize": 19, "values": [39,39.30103,39.47712,39.60206,39.69897,39.77815,39.8451,39.90309,39.95424,40,40.30103,40.47712,40.60206,40.69897,40.77815,40.8451,40.90309,40.95424,41,41.30103,41.47712,41.60206,41.69897,41.77815,41.8451,41.90309,41.95424,42,42.30103,42.47712,42.60206,42.69897,42.77815,42.8451,42.90309,42.95424,43,43.30103,43.47712,43.60206,43.69897,43.77815,43.8451,43.90309,43.95424,44,44.30103,44.47712,44.60206,44.69897,44.77815,44.8451,44.90309,44.95424,45,45.30103,45.47712,45.60206,45.69897], "labelExpr": "datum.value==39?'10³⁹':datum.value==40?'10⁴⁰':datum.value==41?'10⁴¹':datum.value==42?'10⁴²':datum.value==43?'10⁴³':datum.value==44?'10⁴⁴':datum.value==45?'10⁴⁵':''", "tickSize": {"condition": {"test": "datum.value==round(datum.value)", "value": 6}, "value": 3.5}, "labelPadding": 3, "titlePadding": 20}},
    "color": {"field": "s", "type": "nominal", "scale": {"domain": ["D1","B1","D2","B2"], "range": ["#ffa500","#ffdb99","#4169e1","#8c8cff"]}, "legend": {"title": null, "orient": "top-right", "labelExpr": "datum.label=='D1'?'disk inflow':datum.label=='B1'?'BBody fit log₁₀T = 4.18K, log₁₀R = 14.43cm':datum.label=='D2'?'polar inflow':'BBody fit log₁₀T = 4.11K, log₁₀R = 14.50cm'"}},
    "strokeDash": {"field": "s", "type": "nominal", "scale": {"domain": ["D1","B1","D2","B2"], "range": [[1,0],[12,5],[1,0],[12,5]]}, "legend": {"title": null, "orient": "top-right", "labelExpr": "datum.label=='D1'?'disk inflow':datum.label=='B1'?'BBody fit log₁₀T = 4.18K, log₁₀R = 14.43cm':datum.label=='D2'?'polar inflow':'BBody fit log₁₀T = 4.11K, log₁₀R = 14.50cm'"}}
   }},
  {"transform": [{"filter": "datum.s=='D1'||datum.s=='D2'"}], "mark": {"type": "line", "clip": true, "strokeWidth": 2},
   "encoding": {"x": {"field": "x", "type": "quantitative", "axis": null}, "y": {"field": "y", "type": "quantitative", "axis": null}, "color": {"field": "s", "type": "nominal", "legend": null}}},
  {"transform": [{"filter": "datum.s=='D1'||datum.s=='D2'"}], "mark": {"type": "point", "filled": true, "size": 90, "opacity": 1, "clip": true},
   "encoding": {"x": {"field": "x", "type": "quantitative", "axis": null}, "y": {"field": "y", "type": "quantitative", "axis": null}, "color": {"field": "s", "type": "nominal", "legend": null}}},
  {"transform": [{"filter": "datum.s=='P'"}], "mark": {"type": "line", "clip": true, "color": "#777777", "strokeWidth": 1.6, "strokeDash": [7, 3.5]},
   "encoding": {"x": {"field": "x", "type": "quantitative", "axis": null}, "y": {"field": "y", "type": "quantitative", "axis": null}}},
  {"data": {"values": [{}]}, "mark": {"type": "text", "align": "left", "baseline": "middle", "font": "DejaVu Sans", "fontSize": 20},
   "encoding": {"x": {"datum": -1.04, "type": "quantitative", "axis": null}, "y": {"datum": 41.7, "type": "quantitative", "axis": null}, "text": {"value": "νLᵥ ∝ νᵅ,  α = -2.77"}}},
  {"data": {"values": [{}]}, "mark": {"type": "text", "align": "right", "baseline": "middle", "font": "DejaVu Serif", "fontWeight": "bold", "fontSize": 20},
   "encoding": {"x": {"datum": 0.98, "type": "quantitative", "axis": {"orient": "top", "title": "ν(Hz)", "titleFont": "DejaVu Sans", "titleFontSize": 13, "labelFontSize": 13, "values": [-3.08247,-2.90638,-2.78144,-2.68453,-2.60535,-2.5384,-2.48041,-2.42926,-2.3835,-2.08247,-1.90638,-1.78144,-1.68453,-1.60535,-1.5384,-1.48041,-1.42926,-1.3835,-1.08247,-0.90638,-0.78144,-0.68453,-0.60535,-0.5384,-0.48041,-0.42926,-0.3835,-0.08247,0.09362,0.21856,0.31547,0.39465,0.4616,0.51959,0.57074,0.6165,0.91753,1.09362], "labelExpr": "datum.value==-2.3835?'10¹⁵':datum.value==-1.3835?'10¹⁶':datum.value==-0.3835?'10¹⁷':datum.value==0.6165?'10¹⁸':''", "tickSize": {"condition": {"test": "indexof([-2.3835,-1.3835,-0.3835,0.6165],datum.value)>=0", "value": 6}, "value": 3.5}, "labelPadding": 6, "titlePadding": 4}},
    "y": {"datum": 39.49, "type": "quantitative", "axis": null}, "text": {"value": "1(c)"}}}
 ],
 "resolve": {"axis": {"x": "independent", "y": "independent"}}
}
]
},
{
"title": {"text": "t=13.4 days, asymmetric photosphere + shocks", "dx": 10},
"spacing": 31,
"resolve": {"scale": {"color": "independent", "strokeDash": "independent"}},
"hconcat": [
{"width": 487, "height": 356, "data": {"name": "p2a"},
 "layer": [
  {"transform": [{"filter": "datum.s=='B1'||datum.s=='B2'"}], "mark": {"type": "line", "clip": true, "strokeWidth": 3.3},
   "encoding": {
    "x": {"field": "x", "type": "quantitative", "scale": {"domain": [-3.31, 1.2], "nice": false, "zero": false}, "axis": {"orient": "bottom", "title": "hν(kev)", "values": [-3.30103,-3.22185,-3.1549,-3.09691,-3.04576,-3,-2.69897,-2.52288,-2.39794,-2.30103,-2.22185,-2.1549,-2.09691,-2.04576,-2,-1.69897,-1.52288,-1.39794,-1.30103,-1.22185,-1.1549,-1.09691,-1.04576,-1,-0.69897,-0.52288,-0.39794,-0.30103,-0.22185,-0.1549,-0.09691,-0.04576,0,0.30103,0.47712,0.60206,0.69897,0.77815,0.8451,0.90309,0.95424,1], "labelExpr": "datum.value==-3?'10⁻³':datum.value==-2?'10⁻²':datum.value==-1?'10⁻¹':datum.value==0?'10⁰':datum.value==1?'10¹':''", "tickSize": {"condition": {"test": "datum.value==round(datum.value)", "value": 6}, "value": 3.5}, "labelPadding": 2, "titlePadding": 15}},
    "y": {"field": "y", "type": "quantitative", "scale": {"domain": [39, 45.699], "nice": false, "zero": false}, "axis": {"title": "νLᵥ(erg s⁻¹)", "titleFont": "DejaVu Sans", "titleFontSize": 19, "values": [39,39.30103,39.47712,39.60206,39.69897,39.77815,39.8451,39.90309,39.95424,40,40.30103,40.47712,40.60206,40.69897,40.77815,40.8451,40.90309,40.95424,41,41.30103,41.47712,41.60206,41.69897,41.77815,41.8451,41.90309,41.95424,42,42.30103,42.47712,42.60206,42.69897,42.77815,42.8451,42.90309,42.95424,43,43.30103,43.47712,43.60206,43.69897,43.77815,43.8451,43.90309,43.95424,44,44.30103,44.47712,44.60206,44.69897,44.77815,44.8451,44.90309,44.95424,45,45.30103,45.47712,45.60206,45.69897], "labelExpr": "datum.value==39?'10³⁹':datum.value==40?'10⁴⁰':datum.value==41?'10⁴¹':datum.value==42?'10⁴²':datum.value==43?'10⁴³':datum.value==44?'10⁴⁴':datum.value==45?'10⁴⁵':''", "tickSize": {"condition": {"test": "datum.value==round(datum.value)", "value": 6}, "value": 3.5}, "labelPadding": 3, "titlePadding": 20}},
    "color": {"field": "s", "type": "nominal", "scale": {"domain": ["D1","B1"], "range": ["#2f4f4f","#acb9b9"]}, "legend": {"title": null, "orient": "bottom-left", "labelExpr": "datum.label=='D1'?'all angles':'BBody fit log₁₀T = 4.45K, log₁₀R = 14.99cm'"}},
    "strokeDash": {"field": "s", "type": "nominal", "scale": {"domain": ["D1","B1"], "range": [[1,0],[12,5]]}, "legend": {"title": null, "orient": "bottom-left", "labelExpr": "datum.label=='D1'?'all angles':'BBody fit log₁₀T = 4.45K, log₁₀R = 14.99cm'"}}
   }},
  {"transform": [{"filter": "datum.s=='D1'||datum.s=='D2'"}], "mark": {"type": "line", "clip": true, "strokeWidth": 2},
   "encoding": {"x": {"field": "x", "type": "quantitative", "axis": null}, "y": {"field": "y", "type": "quantitative", "axis": null}, "color": {"field": "s", "type": "nominal", "legend": null}}},
  {"transform": [{"filter": "datum.s=='D1'||datum.s=='D2'"}], "mark": {"type": "point", "filled": true, "size": 90, "opacity": 1, "clip": true},
   "encoding": {"x": {"field": "x", "type": "quantitative", "axis": null}, "y": {"field": "y", "type": "quantitative", "axis": null}, "color": {"field": "s", "type": "nominal", "legend": null}}},
  {"data": {"values": [{}]}, "mark": {"type": "text", "align": "right", "baseline": "middle", "font": "DejaVu Serif", "fontWeight": "bold", "fontSize": 20},
   "encoding": {"x": {"datum": 0.98, "type": "quantitative", "axis": {"orient": "top", "title": "ν(Hz)", "titleFont": "DejaVu Sans", "titleFontSize": 13, "labelFontSize": 13, "values": [-3.08247,-2.90638,-2.78144,-2.68453,-2.60535,-2.5384,-2.48041,-2.42926,-2.3835,-2.08247,-1.90638,-1.78144,-1.68453,-1.60535,-1.5384,-1.48041,-1.42926,-1.3835,-1.08247,-0.90638,-0.78144,-0.68453,-0.60535,-0.5384,-0.48041,-0.42926,-0.3835,-0.08247,0.09362,0.21856,0.31547,0.39465,0.4616,0.51959,0.57074,0.6165,0.91753,1.09362], "labelExpr": "datum.value==-2.3835?'10¹⁵':datum.value==-1.3835?'10¹⁶':datum.value==-0.3835?'10¹⁷':datum.value==0.6165?'10¹⁸':''", "tickSize": {"condition": {"test": "indexof([-2.3835,-1.3835,-0.3835,0.6165],datum.value)>=0", "value": 6}, "value": 3.5}, "labelPadding": 6, "titlePadding": 4}},
    "y": {"datum": 45.17, "type": "quantitative", "axis": null}, "text": {"value": "2(a)"}}}
 ],
 "resolve": {"axis": {"x": "independent", "y": "independent"}}
},
{"width": 487, "height": 356, "data": {"name": "p2b"},
 "layer": [
  {"transform": [{"filter": "datum.s=='B1'||datum.s=='B2'"}], "mark": {"type": "line", "clip": true, "strokeWidth": 3.3},
   "encoding": {
    "x": {"field": "x", "type": "quantitative", "scale": {"domain": [-3.31, 1.2], "nice": false, "zero": false}, "axis": {"orient": "bottom", "title": "hν(kev)", "values": [-3.30103,-3.22185,-3.1549,-3.09691,-3.04576,-3,-2.69897,-2.52288,-2.39794,-2.30103,-2.22185,-2.1549,-2.09691,-2.04576,-2,-1.69897,-1.52288,-1.39794,-1.30103,-1.22185,-1.1549,-1.09691,-1.04576,-1,-0.69897,-0.52288,-0.39794,-0.30103,-0.22185,-0.1549,-0.09691,-0.04576,0,0.30103,0.47712,0.60206,0.69897,0.77815,0.8451,0.90309,0.95424,1], "labelExpr": "datum.value==-3?'10⁻³':datum.value==-2?'10⁻²':datum.value==-1?'10⁻¹':datum.value==0?'10⁰':datum.value==1?'10¹':''", "tickSize": {"condition": {"test": "datum.value==round(datum.value)", "value": 6}, "value": 3.5}, "labelPadding": 2, "titlePadding": 15}},
    "y": {"field": "y", "type": "quantitative", "scale": {"domain": [39, 45.699], "nice": false, "zero": false}, "axis": {"title": "νLᵥ(erg s⁻¹)", "titleFont": "DejaVu Sans", "titleFontSize": 19, "values": [39,39.30103,39.47712,39.60206,39.69897,39.77815,39.8451,39.90309,39.95424,40,40.30103,40.47712,40.60206,40.69897,40.77815,40.8451,40.90309,40.95424,41,41.30103,41.47712,41.60206,41.69897,41.77815,41.8451,41.90309,41.95424,42,42.30103,42.47712,42.60206,42.69897,42.77815,42.8451,42.90309,42.95424,43,43.30103,43.47712,43.60206,43.69897,43.77815,43.8451,43.90309,43.95424,44,44.30103,44.47712,44.60206,44.69897,44.77815,44.8451,44.90309,44.95424,45,45.30103,45.47712,45.60206,45.69897], "labelExpr": "datum.value==39?'10³⁹':datum.value==40?'10⁴⁰':datum.value==41?'10⁴¹':datum.value==42?'10⁴²':datum.value==43?'10⁴³':datum.value==44?'10⁴⁴':datum.value==45?'10⁴⁵':''", "tickSize": {"condition": {"test": "datum.value==round(datum.value)", "value": 6}, "value": 3.5}, "labelPadding": 3, "titlePadding": 20}},
    "color": {"field": "s", "type": "nominal", "scale": {"domain": ["D1","B1","D2","B2"], "range": ["#d62728","#efa9a9","#00bfbf","#99e5e5"]}, "legend": {"title": null, "orient": "bottom-left", "labelExpr": "datum.label=='D1'?'disk outflow':datum.label=='B1'?'BBody fit log₁₀T = 4.39K, log₁₀R = 14.66cm':datum.label=='D2'?'polar outflow':'BBody fit log₁₀T = 4.44K, log₁₀R = 14.70cm'"}},
    "strokeDash": {"field": "s", "type": "nominal", "scale": {"domain": ["D1","B1","D2","B2"], "range": [[1,0],[12,5],[1,0],[12,5]]}, "legend": {"title": null, "orient": "bottom-left", "labelExpr": "datum.label=='D1'?'disk outflow':datum.label=='B1'?'BBody fit log₁₀T = 4.39K, log₁₀R = 14.66cm':datum.label=='D2'?'polar outflow':'BBody fit log₁₀T = 4.44K, log₁₀R = 14.70cm'"}}
   }},
  {"transform": [{"filter": "datum.s=='D1'||datum.s=='D2'"}], "mark": {"type": "line", "clip": true, "strokeWidth": 2},
   "encoding": {"x": {"field": "x", "type": "quantitative", "axis": null}, "y": {"field": "y", "type": "quantitative", "axis": null}, "color": {"field": "s", "type": "nominal", "legend": null}}},
  {"transform": [{"filter": "datum.s=='D1'||datum.s=='D2'"}], "mark": {"type": "point", "filled": true, "size": 90, "opacity": 1, "clip": true},
   "encoding": {"x": {"field": "x", "type": "quantitative", "axis": null}, "y": {"field": "y", "type": "quantitative", "axis": null}, "color": {"field": "s", "type": "nominal", "legend": null}}},
  {"data": {"values": [{}]}, "mark": {"type": "text", "align": "right", "baseline": "middle", "font": "DejaVu Serif", "fontWeight": "bold", "fontSize": 20},
   "encoding": {"x": {"datum": 0.98, "type": "quantitative", "axis": {"orient": "top", "title": "ν(Hz)", "titleFont": "DejaVu Sans", "titleFontSize": 13, "labelFontSize": 13, "values": [-3.08247,-2.90638,-2.78144,-2.68453,-2.60535,-2.5384,-2.48041,-2.42926,-2.3835,-2.08247,-1.90638,-1.78144,-1.68453,-1.60535,-1.5384,-1.48041,-1.42926,-1.3835,-1.08247,-0.90638,-0.78144,-0.68453,-0.60535,-0.5384,-0.48041,-0.42926,-0.3835,-0.08247,0.09362,0.21856,0.31547,0.39465,0.4616,0.51959,0.57074,0.6165,0.91753,1.09362], "labelExpr": "datum.value==-2.3835?'10¹⁵':datum.value==-1.3835?'10¹⁶':datum.value==-0.3835?'10¹⁷':datum.value==0.6165?'10¹⁸':''", "tickSize": {"condition": {"test": "indexof([-2.3835,-1.3835,-0.3835,0.6165],datum.value)>=0", "value": 6}, "value": 3.5}, "labelPadding": 6, "titlePadding": 4}},
    "y": {"datum": 45.17, "type": "quantitative", "axis": null}, "text": {"value": "2(b)"}}}
 ],
 "resolve": {"axis": {"x": "independent", "y": "independent"}}
},
{"width": 487, "height": 356, "data": {"name": "p2c"},
 "layer": [
  {"transform": [{"filter": "datum.s=='B1'||datum.s=='B2'"}], "mark": {"type": "line", "clip": true, "strokeWidth": 3.3},
   "encoding": {
    "x": {"field": "x", "type": "quantitative", "scale": {"domain": [-3.31, 1.2], "nice": false, "zero": false}, "axis": {"orient": "bottom", "title": "hν(kev)", "values": [-3.30103,-3.22185,-3.1549,-3.09691,-3.04576,-3,-2.69897,-2.52288,-2.39794,-2.30103,-2.22185,-2.1549,-2.09691,-2.04576,-2,-1.69897,-1.52288,-1.39794,-1.30103,-1.22185,-1.1549,-1.09691,-1.04576,-1,-0.69897,-0.52288,-0.39794,-0.30103,-0.22185,-0.1549,-0.09691,-0.04576,0,0.30103,0.47712,0.60206,0.69897,0.77815,0.8451,0.90309,0.95424,1], "labelExpr": "datum.value==-3?'10⁻³':datum.value==-2?'10⁻²':datum.value==-1?'10⁻¹':datum.value==0?'10⁰':datum.value==1?'10¹':''", "tickSize": {"condition": {"test": "datum.value==round(datum.value)", "value": 6}, "value": 3.5}, "labelPadding": 2, "titlePadding": 15}},
    "y": {"field": "y", "type": "quantitative", "scale": {"domain": [39, 45.699], "nice": false, "zero": false}, "axis": {"title": "νLᵥ(erg s⁻¹)", "titleFont": "DejaVu Sans", "titleFontSize": 19, "values": [39,39.30103,39.47712,39.60206,39.69897,39.77815,39.8451,39.90309,39.95424,40,40.30103,40.47712,40.60206,40.69897,40.77815,40.8451,40.90309,40.95424,41,41.30103,41.47712,41.60206,41.69897,41.77815,41.8451,41.90309,41.95424,42,42.30103,42.47712,42.60206,42.69897,42.77815,42.8451,42.90309,42.95424,43,43.30103,43.47712,43.60206,43.69897,43.77815,43.8451,43.90309,43.95424,44,44.30103,44.47712,44.60206,44.69897,44.77815,44.8451,44.90309,44.95424,45,45.30103,45.47712,45.60206,45.69897], "labelExpr": "datum.value==39?'10³⁹':datum.value==40?'10⁴⁰':datum.value==41?'10⁴¹':datum.value==42?'10⁴²':datum.value==43?'10⁴³':datum.value==44?'10⁴⁴':datum.value==45?'10⁴⁵':''", "tickSize": {"condition": {"test": "datum.value==round(datum.value)", "value": 6}, "value": 3.5}, "labelPadding": 3, "titlePadding": 20}},
    "color": {"field": "s", "type": "nominal", "scale": {"domain": ["D1","B1","D2","B2"], "range": ["#ffa500","#ffdb99","#4169e1","#8c8cff"]}, "legend": {"title": null, "orient": "bottom-left", "labelExpr": "datum.label=='D1'?'disk inflow':datum.label=='B1'?'BBody fit log₁₀T = 4.45K, log₁₀R = 14.70cm':datum.label=='D2'?'polar inflow':'BBody fit log₁₀T = 4.49K, log₁₀R = 14.69cm'"}},
    "strokeDash": {"field": "s", "type": "nominal", "scale": {"domain": ["D1","B1","D2","B2"], "range": [[1,0],[12,5],[1,0],[12,5]]}, "legend": {"title": null, "orient": "bottom-left", "labelExpr": "datum.label=='D1'?'disk inflow':datum.label=='B1'?'BBody fit log₁₀T = 4.45K, log₁₀R = 14.70cm':datum.label=='D2'?'polar inflow':'BBody fit log₁₀T = 4.49K, log₁₀R = 14.69cm'"}}
   }},
  {"transform": [{"filter": "datum.s=='D1'||datum.s=='D2'"}], "mark": {"type": "line", "clip": true, "strokeWidth": 2},
   "encoding": {"x": {"field": "x", "type": "quantitative", "axis": null}, "y": {"field": "y", "type": "quantitative", "axis": null}, "color": {"field": "s", "type": "nominal", "legend": null}}},
  {"transform": [{"filter": "datum.s=='D1'||datum.s=='D2'"}], "mark": {"type": "point", "filled": true, "size": 90, "opacity": 1, "clip": true},
   "encoding": {"x": {"field": "x", "type": "quantitative", "axis": null}, "y": {"field": "y", "type": "quantitative", "axis": null}, "color": {"field": "s", "type": "nominal", "legend": null}}},
  {"transform": [{"filter": "datum.s=='P'"}], "mark": {"type": "line", "clip": true, "color": "#777777", "strokeWidth": 1.6, "strokeDash": [7, 3.5]},
   "encoding": {"x": {"field": "x", "type": "quantitative", "axis": null}, "y": {"field": "y", "type": "quantitative", "axis": null}}},
  {"data": {"values": [{}]}, "mark": {"type": "text", "align": "left", "baseline": "middle", "font": "DejaVu Sans", "fontSize": 20},
   "encoding": {"x": {"datum": -1.04, "type": "quantitative", "axis": null}, "y": {"datum": 41.7, "type": "quantitative", "axis": null}, "text": {"value": "νLᵥ ∝ νᵅ,  α = -0.95"}}},
  {"data": {"values": [{}]}, "mark": {"type": "text", "align": "right", "baseline": "middle", "font": "DejaVu Serif", "fontWeight": "bold", "fontSize": 20},
   "encoding": {"x": {"datum": 0.98, "type": "quantitative", "axis": {"orient": "top", "title": "ν(Hz)", "titleFont": "DejaVu Sans", "titleFontSize": 13, "labelFontSize": 13, "values": [-3.08247,-2.90638,-2.78144,-2.68453,-2.60535,-2.5384,-2.48041,-2.42926,-2.3835,-2.08247,-1.90638,-1.78144,-1.68453,-1.60535,-1.5384,-1.48041,-1.42926,-1.3835,-1.08247,-0.90638,-0.78144,-0.68453,-0.60535,-0.5384,-0.48041,-0.42926,-0.3835,-0.08247,0.09362,0.21856,0.31547,0.39465,0.4616,0.51959,0.57074,0.6165,0.91753,1.09362], "labelExpr": "datum.value==-2.3835?'10¹⁵':datum.value==-1.3835?'10¹⁶':datum.value==-0.3835?'10¹⁷':datum.value==0.6165?'10¹⁸':''", "tickSize": {"condition": {"test": "indexof([-2.3835,-1.3835,-0.3835,0.6165],datum.value)>=0", "value": 6}, "value": 3.5}, "labelPadding": 6, "titlePadding": 4}},
    "y": {"datum": 45.17, "type": "quantitative", "axis": null}, "text": {"value": "2(c)"}}}
 ],
 "resolve": {"axis": {"x": "independent", "y": "independent"}}
}
]
},
{
"title": {"text": "t=23.6 days, asymmetric photosphere + shocks", "dx": 10},
"spacing": 31,
"resolve": {"scale": {"color": "independent", "strokeDash": "independent"}},
"hconcat": [
{"width": 487, "height": 356, "data": {"name": "p3a"},
 "layer": [
  {"transform": [{"filter": "datum.s=='B1'||datum.s=='B2'"}], "mark": {"type": "line", "clip": true, "strokeWidth": 3.3},
   "encoding": {
    "x": {"field": "x", "type": "quantitative", "scale": {"domain": [-3.31, 1.2], "nice": false, "zero": false}, "axis": {"orient": "bottom", "title": "hν(kev)", "values": [-3.30103,-3.22185,-3.1549,-3.09691,-3.04576,-3,-2.69897,-2.52288,-2.39794,-2.30103,-2.22185,-2.1549,-2.09691,-2.04576,-2,-1.69897,-1.52288,-1.39794,-1.30103,-1.22185,-1.1549,-1.09691,-1.04576,-1,-0.69897,-0.52288,-0.39794,-0.30103,-0.22185,-0.1549,-0.09691,-0.04576,0,0.30103,0.47712,0.60206,0.69897,0.77815,0.8451,0.90309,0.95424,1], "labelExpr": "datum.value==-3?'10⁻³':datum.value==-2?'10⁻²':datum.value==-1?'10⁻¹':datum.value==0?'10⁰':datum.value==1?'10¹':''", "tickSize": {"condition": {"test": "datum.value==round(datum.value)", "value": 6}, "value": 3.5}, "labelPadding": 2, "titlePadding": 15}},
    "y": {"field": "y", "type": "quantitative", "scale": {"domain": [39, 45.699], "nice": false, "zero": false}, "axis": {"title": "νLᵥ(erg s⁻¹)", "titleFont": "DejaVu Sans", "titleFontSize": 19, "values": [39,39.30103,39.47712,39.60206,39.69897,39.77815,39.8451,39.90309,39.95424,40,40.30103,40.47712,40.60206,40.69897,40.77815,40.8451,40.90309,40.95424,41,41.30103,41.47712,41.60206,41.69897,41.77815,41.8451,41.90309,41.95424,42,42.30103,42.47712,42.60206,42.69897,42.77815,42.8451,42.90309,42.95424,43,43.30103,43.47712,43.60206,43.69897,43.77815,43.8451,43.90309,43.95424,44,44.30103,44.47712,44.60206,44.69897,44.77815,44.8451,44.90309,44.95424,45,45.30103,45.47712,45.60206,45.69897], "labelExpr": "datum.value==39?'10³⁹':datum.value==40?'10⁴⁰':datum.value==41?'10⁴¹':datum.value==42?'10⁴²':datum.value==43?'10⁴³':datum.value==44?'10⁴⁴':datum.value==45?'10⁴⁵':''", "tickSize": {"condition": {"test": "datum.value==round(datum.value)", "value": 6}, "value": 3.5}, "labelPadding": 3, "titlePadding": 20}},
    "color": {"field": "s", "type": "nominal", "scale": {"domain": ["D1","B1"], "range": ["#2f4f4f","#acb9b9"]}, "legend": {"title": null, "orient": "bottom-left", "labelExpr": "datum.label=='D1'?'all angles':'BBody fit log₁₀T = 4.49K, log₁₀R = 14.93cm'"}},
    "strokeDash": {"field": "s", "type": "nominal", "scale": {"domain": ["D1","B1"], "range": [[1,0],[12,5]]}, "legend": {"title": null, "orient": "bottom-left", "labelExpr": "datum.label=='D1'?'all angles':'BBody fit log₁₀T = 4.49K, log₁₀R = 14.93cm'"}}
   }},
  {"transform": [{"filter": "datum.s=='D1'||datum.s=='D2'"}], "mark": {"type": "line", "clip": true, "strokeWidth": 2},
   "encoding": {"x": {"field": "x", "type": "quantitative", "axis": null}, "y": {"field": "y", "type": "quantitative", "axis": null}, "color": {"field": "s", "type": "nominal", "legend": null}}},
  {"transform": [{"filter": "datum.s=='D1'||datum.s=='D2'"}], "mark": {"type": "point", "filled": true, "size": 90, "opacity": 1, "clip": true},
   "encoding": {"x": {"field": "x", "type": "quantitative", "axis": null}, "y": {"field": "y", "type": "quantitative", "axis": null}, "color": {"field": "s", "type": "nominal", "legend": null}}},
  {"data": {"values": [{}]}, "mark": {"type": "text", "align": "right", "baseline": "middle", "font": "DejaVu Serif", "fontWeight": "bold", "fontSize": 20},
   "encoding": {"x": {"datum": 0.98, "type": "quantitative", "axis": {"orient": "top", "title": "ν(Hz)", "titleFont": "DejaVu Sans", "titleFontSize": 13, "labelFontSize": 13, "values": [-3.08247,-2.90638,-2.78144,-2.68453,-2.60535,-2.5384,-2.48041,-2.42926,-2.3835,-2.08247,-1.90638,-1.78144,-1.68453,-1.60535,-1.5384,-1.48041,-1.42926,-1.3835,-1.08247,-0.90638,-0.78144,-0.68453,-0.60535,-0.5384,-0.48041,-0.42926,-0.3835,-0.08247,0.09362,0.21856,0.31547,0.39465,0.4616,0.51959,0.57074,0.6165,0.91753,1.09362], "labelExpr": "datum.value==-2.3835?'10¹⁵':datum.value==-1.3835?'10¹⁶':datum.value==-0.3835?'10¹⁷':datum.value==0.6165?'10¹⁸':''", "tickSize": {"condition": {"test": "indexof([-2.3835,-1.3835,-0.3835,0.6165],datum.value)>=0", "value": 6}, "value": 3.5}, "labelPadding": 6, "titlePadding": 4}},
    "y": {"datum": 45.17, "type": "quantitative", "axis": null}, "text": {"value": "3(a)"}}}
 ],
 "resolve": {"axis": {"x": "independent", "y": "independent"}}
},
{"width": 487, "height": 356, "data": {"name": "p3b"},
 "layer": [
  {"transform": [{"filter": "datum.s=='B1'||datum.s=='B2'"}], "mark": {"type": "line", "clip": true, "strokeWidth": 3.3},
   "encoding": {
    "x": {"field": "x", "type": "quantitative", "scale": {"domain": [-3.31, 1.2], "nice": false, "zero": false}, "axis": {"orient": "bottom", "title": "hν(kev)", "values": [-3.30103,-3.22185,-3.1549,-3.09691,-3.04576,-3,-2.69897,-2.52288,-2.39794,-2.30103,-2.22185,-2.1549,-2.09691,-2.04576,-2,-1.69897,-1.52288,-1.39794,-1.30103,-1.22185,-1.1549,-1.09691,-1.04576,-1,-0.69897,-0.52288,-0.39794,-0.30103,-0.22185,-0.1549,-0.09691,-0.04576,0,0.30103,0.47712,0.60206,0.69897,0.77815,0.8451,0.90309,0.95424,1], "labelExpr": "datum.value==-3?'10⁻³':datum.value==-2?'10⁻²':datum.value==-1?'10⁻¹':datum.value==0?'10⁰':datum.value==1?'10¹':''", "tickSize": {"condition": {"test": "datum.value==round(datum.value)", "value": 6}, "value": 3.5}, "labelPadding": 2, "titlePadding": 15}},
    "y": {"field": "y", "type": "quantitative", "scale": {"domain": [39, 45.699], "nice": false, "zero": false}, "axis": {"title": "νLᵥ(erg s⁻¹)", "titleFont": "DejaVu Sans", "titleFontSize": 19, "values": [39,39.30103,39.47712,39.60206,39.69897,39.77815,39.8451,39.90309,39.95424,40,40.30103,40.47712,40.60206,40.69897,40.77815,40.8451,40.90309,40.95424,41,41.30103,41.47712,41.60206,41.69897,41.77815,41.8451,41.90309,41.95424,42,42.30103,42.47712,42.60206,42.69897,42.77815,42.8451,42.90309,42.95424,43,43.30103,43.47712,43.60206,43.69897,43.77815,43.8451,43.90309,43.95424,44,44.30103,44.47712,44.60206,44.69897,44.77815,44.8451,44.90309,44.95424,45,45.30103,45.47712,45.60206,45.69897], "labelExpr": "datum.value==39?'10³⁹':datum.value==40?'10⁴⁰':datum.value==41?'10⁴¹':datum.value==42?'10⁴²':datum.value==43?'10⁴³':datum.value==44?'10⁴⁴':datum.value==45?'10⁴⁵':''", "tickSize": {"condition": {"test": "datum.value==round(datum.value)", "value": 6}, "value": 3.5}, "labelPadding": 3, "titlePadding": 20}},
    "color": {"field": "s", "type": "nominal", "scale": {"domain": ["D1","B1","D2","B2"], "range": ["#d62728","#efa9a9","#00bfbf","#99e5e5"]}, "legend": {"title": null, "orient": "bottom-left", "labelExpr": "datum.label=='D1'?'disk outflow':datum.label=='B1'?'BBody fit log₁₀T = 4.47K, log₁₀R = 14.57cm':datum.label=='D2'?'polar outflow':'BBody fit log₁₀T = 4.47K, log₁₀R = 14.61cm'"}},
    "strokeDash": {"field": "s", "type": "nominal", "scale": {"domain": ["D1","B1","D2","B2"], "range": [[1,0],[12,5],[1,0],[12,5]]}, "legend": {"title": null, "orient": "bottom-left", "labelExpr": "datum.label=='D1'?'disk outflow':datum.label=='B1'?'BBody fit log₁₀T = 4.47K, log₁₀R = 14.57cm':datum.label=='D2'?'polar outflow':'BBody fit log₁₀T = 4.47K, log₁₀R = 14.61cm'"}}
   }},
  {"transform": [{"filter": "datum.s=='D1'||datum.s=='D2'"}], "mark": {"type": "line", "clip": true, "strokeWidth": 2},
   "encoding": {"x": {"field": "x", "type": "quantitative", "axis": null}, "y": {"field": "y", "type": "quantitative", "axis": null}, "color": {"field": "s", "type": "nominal", "legend": null}}},
  {"transform": [{"filter": "datum.s=='D1'||datum.s=='D2'"}], "mark": {"type": "point", "filled": true, "size": 90, "opacity": 1, "clip": true},
   "encoding": {"x": {"field": "x", "type": "quantitative", "axis": null}, "y": {"field": "y", "type": "quantitative", "axis": null}, "color": {"field": "s", "type": "nominal", "legend": null}}},
  {"data": {"values": [{}]}, "mark": {"type": "text", "align": "right", "baseline": "middle", "font": "DejaVu Serif", "fontWeight": "bold", "fontSize": 20},
   "encoding": {"x": {"datum": 0.98, "type": "quantitative", "axis": {"orient": "top", "title": "ν(Hz)", "titleFont": "DejaVu Sans", "titleFontSize": 13, "labelFontSize": 13, "values": [-3.08247,-2.90638,-2.78144,-2.68453,-2.60535,-2.5384,-2.48041,-2.42926,-2.3835,-2.08247,-1.90638,-1.78144,-1.68453,-1.60535,-1.5384,-1.48041,-1.42926,-1.3835,-1.08247,-0.90638,-0.78144,-0.68453,-0.60535,-0.5384,-0.48041,-0.42926,-0.3835,-0.08247,0.09362,0.21856,0.31547,0.39465,0.4616,0.51959,0.57074,0.6165,0.91753,1.09362], "labelExpr": "datum.value==-2.3835?'10¹⁵':datum.value==-1.3835?'10¹⁶':datum.value==-0.3835?'10¹⁷':datum.value==0.6165?'10¹⁸':''", "tickSize": {"condition": {"test": "indexof([-2.3835,-1.3835,-0.3835,0.6165],datum.value)>=0", "value": 6}, "value": 3.5}, "labelPadding": 6, "titlePadding": 4}},
    "y": {"datum": 45.17, "type": "quantitative", "axis": null}, "text": {"value": "3(b)"}}}
 ],
 "resolve": {"axis": {"x": "independent", "y": "independent"}}
},
{"width": 487, "height": 356, "data": {"name": "p3c"},
 "layer": [
  {"transform": [{"filter": "datum.s=='B1'||datum.s=='B2'"}], "mark": {"type": "line", "clip": true, "strokeWidth": 3.3},
   "encoding": {
    "x": {"field": "x", "type": "quantitative", "scale": {"domain": [-3.31, 1.2], "nice": false, "zero": false}, "axis": {"orient": "bottom", "title": "hν(kev)", "values": [-3.30103,-3.22185,-3.1549,-3.09691,-3.04576,-3,-2.69897,-2.52288,-2.39794,-2.30103,-2.22185,-2.1549,-2.09691,-2.04576,-2,-1.69897,-1.52288,-1.39794,-1.30103,-1.22185,-1.1549,-1.09691,-1.04576,-1,-0.69897,-0.52288,-0.39794,-0.30103,-0.22185,-0.1549,-0.09691,-0.04576,0,0.30103,0.47712,0.60206,0.69897,0.77815,0.8451,0.90309,0.95424,1], "labelExpr": "datum.value==-3?'10⁻³':datum.value==-2?'10⁻²':datum.value==-1?'10⁻¹':datum.value==0?'10⁰':datum.value==1?'10¹':''", "tickSize": {"condition": {"test": "datum.value==round(datum.value)", "value": 6}, "value": 3.5}, "labelPadding": 2, "titlePadding": 15}},
    "y": {"field": "y", "type": "quantitative", "scale": {"domain": [39, 45.699], "nice": false, "zero": false}, "axis": {"title": "νLᵥ(erg s⁻¹)", "titleFont": "DejaVu Sans", "titleFontSize": 19, "values": [39,39.30103,39.47712,39.60206,39.69897,39.77815,39.8451,39.90309,39.95424,40,40.30103,40.47712,40.60206,40.69897,40.77815,40.8451,40.90309,40.95424,41,41.30103,41.47712,41.60206,41.69897,41.77815,41.8451,41.90309,41.95424,42,42.30103,42.47712,42.60206,42.69897,42.77815,42.8451,42.90309,42.95424,43,43.30103,43.47712,43.60206,43.69897,43.77815,43.8451,43.90309,43.95424,44,44.30103,44.47712,44.60206,44.69897,44.77815,44.8451,44.90309,44.95424,45,45.30103,45.47712,45.60206,45.69897], "labelExpr": "datum.value==39?'10³⁹':datum.value==40?'10⁴⁰':datum.value==41?'10⁴¹':datum.value==42?'10⁴²':datum.value==43?'10⁴³':datum.value==44?'10⁴⁴':datum.value==45?'10⁴⁵':''", "tickSize": {"condition": {"test": "datum.value==round(datum.value)", "value": 6}, "value": 3.5}, "labelPadding": 3, "titlePadding": 20}},
    "color": {"field": "s", "type": "nominal", "scale": {"domain": ["D1","B1","D2","B2"], "range": ["#ffa500","#ffdb99","#4169e1","#8c8cff"]}, "legend": {"title": null, "orient": "bottom-left", "labelExpr": "datum.label=='D1'?'disk inflow':datum.label=='B1'?'BBody fit log₁₀T = 4.46K, log₁₀R = 14.70cm':datum.label=='D2'?'polar inflow':'BBody fit log₁₀T = 4.54K, log₁₀R = 14.65cm'"}},
    "strokeDash": {"field": "s", "type": "nominal", "scale": {"domain": ["D1","B1","D2","B2"], "range": [[1,0],[12,5],[1,0],[12,5]]}, "legend": {"title": null, "orient": "bottom-left", "labelExpr": "datum.label=='D1'?'disk inflow':datum.label=='B1'?'BBody fit log₁₀T = 4.46K, log₁₀R = 14.70cm':datum.label=='D2'?'polar inflow':'BBody fit log₁₀T = 4.54K, log₁₀R = 14.65cm'"}}
   }},
  {"transform": [{"filter": "datum.s=='D1'||datum.s=='D2'"}], "mark": {"type": "line", "clip": true, "strokeWidth": 2},
   "encoding": {"x": {"field": "x", "type": "quantitative", "axis": null}, "y": {"field": "y", "type": "quantitative", "axis": null}, "color": {"field": "s", "type": "nominal", "legend": null}}},
  {"transform": [{"filter": "datum.s=='D1'||datum.s=='D2'"}], "mark": {"type": "point", "filled": true, "size": 90, "opacity": 1, "clip": true},
   "encoding": {"x": {"field": "x", "type": "quantitative", "axis": null}, "y": {"field": "y", "type": "quantitative", "axis": null}, "color": {"field": "s", "type": "nominal", "legend": null}}},
  {"data": {"values": [{}]}, "mark": {"type": "text", "align": "right", "baseline": "middle", "font": "DejaVu Serif", "fontWeight": "bold", "fontSize": 20},
   "encoding": {"x": {"datum": 0.98, "type": "quantitative", "axis": {"orient": "top", "title": "ν(Hz)", "titleFont": "DejaVu Sans", "titleFontSize": 13, "labelFontSize": 13, "values": [-3.08247,-2.90638,-2.78144,-2.68453,-2.60535,-2.5384,-2.48041,-2.42926,-2.3835,-2.08247,-1.90638,-1.78144,-1.68453,-1.60535,-1.5384,-1.48041,-1.42926,-1.3835,-1.08247,-0.90638,-0.78144,-0.68453,-0.60535,-0.5384,-0.48041,-0.42926,-0.3835,-0.08247,0.09362,0.21856,0.31547,0.39465,0.4616,0.51959,0.57074,0.6165,0.91753,1.09362], "labelExpr": "datum.value==-2.3835?'10¹⁵':datum.value==-1.3835?'10¹⁶':datum.value==-0.3835?'10¹⁷':datum.value==0.6165?'10¹⁸':''", "tickSize": {"condition": {"test": "indexof([-2.3835,-1.3835,-0.3835,0.6165],datum.value)>=0", "value": 6}, "value": 3.5}, "labelPadding": 6, "titlePadding": 4}},
    "y": {"datum": 45.17, "type": "quantitative", "axis": null}, "text": {"value": "3(c)"}}}
 ],
 "resolve": {"axis": {"x": "independent", "y": "independent"}}
}
]
}
]
}
